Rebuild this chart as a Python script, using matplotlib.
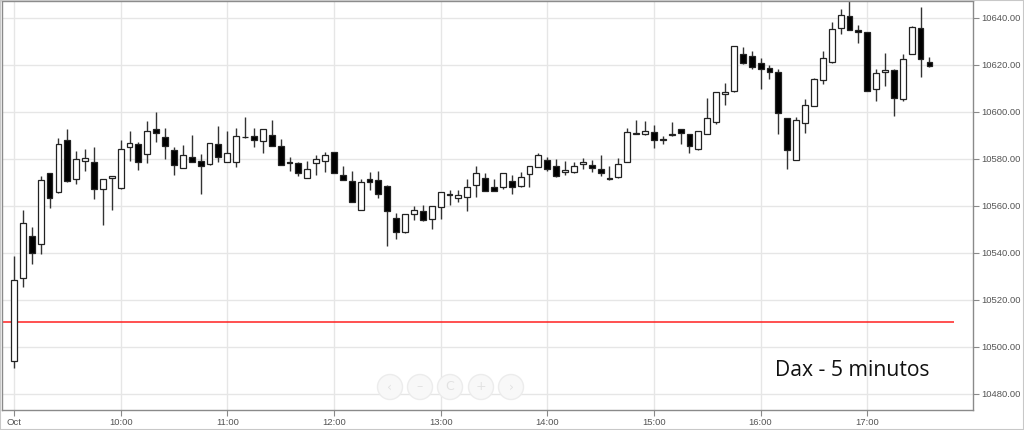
import matplotlib
matplotlib.use("Agg")
import matplotlib.pyplot as plt
import matplotlib.patches as mpatches
from matplotlib.transforms import IdentityTransform

# ---------------------------------------------------------------------------
# Data: DAX 5-minute candles, 09:00 .. 17:35
# ---------------------------------------------------------------------------

opens = [
    10494.0, 10529.4, 10547.2, 10543.7, 10573.9, 10565.7, 10587.8, 10571.5,
    10579.0, 10578.4, 10567.2, 10571.8, 10567.5, 10584.8, 10586.4, 10581.8,
    10592.8, 10589.4, 10583.5, 10575.9, 10580.6, 10579.0, 10577.6, 10586.1,
    10578.6, 10578.6, 10589.3, 10589.8, 10587.4, 10590.2, 10585.5, 10578.5,
    10578.3, 10571.8, 10578.3, 10579.0, 10582.7, 10573.0, 10570.5, 10558.2,
    10571.2, 10570.8, 10568.2, 10554.6, 10548.7, 10556.6, 10557.9, 10554.3,
    10559.3, 10565.0, 10563.1, 10563.8, 10568.8, 10571.8, 10568.1, 10567.8,
    10570.6, 10568.4, 10573.6, 10576.5, 10579.4, 10576.7, 10574.2, 10574.2,
    10577.6, 10577.3, 10575.6, 10571.8, 10572.1, 10578.6, 10590.7, 10590.4,
    10591.5, 10588.3, 10590.0, 10592.6, 10590.4, 10584.0, 10590.6, 10595.7,
    10607.5, 10608.9, 10624.7, 10623.5, 10620.9, 10618.7, 10616.9, 10597.4,
    10579.6, 10595.3, 10602.4, 10613.5, 10621.0, 10635.6, 10640.7, 10634.9,
    10634.0, 10609.8, 10616.7, 10617.9, 10605.2, 10624.5, 10635.6, 10621.1,
]
highs = [
    10538.7, 10558.0, 10550.8, 10572.8, 10574.0, 10588.8, 10592.5, 10583.4,
    10584.1, 10584.8, 10571.3, 10572.7, 10588.0, 10591.6, 10587.0, 10595.9,
    10599.7, 10592.9, 10585.2, 10585.7, 10590.0, 10581.8, 10586.8, 10594.0,
    10591.6, 10593.0, 10597.9, 10593.2, 10592.6, 10596.3, 10588.2, 10580.6,
    10578.4, 10579.1, 10581.4, 10582.7, 10582.8, 10576.9, 10574.8, 10571.5,
    10574.5, 10574.8, 10568.9, 10556.7, 10556.4, 10559.7, 10560.1, 10559.8,
    10565.9, 10566.7, 10566.7, 10571.2, 10577.0, 10573.8, 10571.5, 10574.0,
    10573.2, 10574.3, 10577.0, 10582.6, 10580.6, 10579.7, 10579.0, 10578.7,
    10580.1, 10579.4, 10581.4, 10576.7, 10580.1, 10593.2, 10596.6, 10595.9,
    10594.3, 10589.6, 10595.7, 10592.7, 10590.5, 10591.7, 10605.7, 10608.3,
    10612.2, 10627.9, 10627.4, 10625.8, 10622.7, 10619.9, 10618.0, 10597.5,
    10597.6, 10605.4, 10614.5, 10625.8, 10638.0, 10643.7, 10649.0, 10636.9,
    10634.1, 10618.3, 10624.8, 10618.0, 10624.4, 10636.5, 10644.5, 10623.1,
]
lows = [
    10490.8, 10525.4, 10535.3, 10539.4, 10558.9, 10565.5, 10570.0, 10569.1,
    10574.9, 10563.0, 10551.6, 10558.0, 10567.3, 10579.0, 10575.0, 10578.2,
    10587.2, 10580.0, 10573.2, 10575.9, 10578.5, 10565.2, 10577.2, 10578.6,
    10578.5, 10576.3, 10589.0, 10585.1, 10582.3, 10585.3, 10577.3, 10574.9,
    10572.6, 10571.7, 10573.2, 10574.3, 10573.9, 10570.8, 10561.5, 10558.1,
    10566.7, 10563.4, 10543.0, 10546.0, 10548.6, 10553.9, 10553.6, 10550.2,
    10554.3, 10560.3, 10561.6, 10557.7, 10563.8, 10566.1, 10566.1, 10567.2,
    10565.2, 10567.8, 10567.8, 10576.4, 10574.8, 10572.4, 10572.9, 10574.1,
    10575.5, 10574.2, 10572.5, 10570.9, 10572.0, 10578.5, 10590.6, 10590.3,
    10584.7, 10586.1, 10589.6, 10586.1, 10582.3, 10583.9, 10590.5, 10594.6,
    10602.8, 10608.5, 10620.5, 10618.0, 10609.6, 10613.8, 10590.4, 10575.5,
    10579.3, 10591.1, 10602.3, 10611.6, 10620.6, 10633.2, 10634.7, 10629.4,
    10608.6, 10604.5, 10610.9, 10598.3, 10604.5, 10624.4, 10614.6, 10619.2,
]
closes = [
    10528.2, 10552.5, 10539.9, 10570.8, 10563.4, 10586.4, 10570.4, 10579.7,
    10580.1, 10567.2, 10571.2, 10572.6, 10584.0, 10586.7, 10578.6, 10591.6,
    10590.8, 10585.5, 10577.2, 10581.7, 10578.6, 10576.7, 10586.7, 10580.6,
    10582.6, 10589.8, 10589.1, 10587.8, 10592.5, 10585.4, 10577.4, 10578.2,
    10573.8, 10575.6, 10579.9, 10581.4, 10574.0, 10570.9, 10561.6, 10570.1,
    10569.9, 10565.1, 10557.7, 10548.9, 10556.3, 10558.2, 10553.9, 10559.7,
    10565.8, 10564.6, 10564.7, 10568.1, 10573.8, 10566.2, 10566.2, 10573.9,
    10567.8, 10572.2, 10576.9, 10581.4, 10575.7, 10572.5, 10575.3, 10576.7,
    10578.6, 10576.0, 10573.9, 10571.5, 10577.6, 10591.2, 10590.9, 10591.6,
    10587.8, 10588.1, 10590.2, 10590.8, 10585.5, 10591.6, 10597.3, 10608.2,
    10608.4, 10627.8, 10620.6, 10619.1, 10618.0, 10616.9, 10599.6, 10583.5,
    10596.6, 10602.7, 10613.8, 10622.7, 10635.3, 10641.0, 10634.8, 10634.0,
    10608.7, 10616.3, 10617.6, 10606.0, 10622.4, 10636.2, 10622.3, 10619.3,
]

hour_labels = ["Oct", "10:00", "11:00", "12:00", "13:00",
               "14:00", "15:00", "16:00", "17:00"]
price_ticks = [10480, 10500, 10520, 10540, 10560, 10580, 10600, 10620, 10640]
ref_level = 10510.5          # red horizontal line
ref_end = 105.8              # where the red line stops (candle index)

# ---------------------------------------------------------------------------
# Figure
# ---------------------------------------------------------------------------

W, H = 1024, 430
fig = plt.figure(figsize=(W / 100, H / 100), dpi=100)
fig.patch.set_facecolor("white")
ax = fig.add_axes([2 / W, 20 / H, 971 / W, 409 / H])

GRID = "#e6e6e6"
FRAME = "#8a8a8a"
LABEL = "#555555"

x = list(range(len(opens)))
for k in range(len(hour_labels)):
    ax.axvline(k * 12, color=GRID, lw=1, zorder=0)
for p in price_ticks:
    ax.axhline(p, color=GRID, lw=1, zorder=0)

ax.hlines(ref_level, -2, ref_end, color="#ff2020", lw=1.1, zorder=1)

# wicks
ax.vlines(x, lows, highs, color="#333333", lw=1.0, zorder=2)

# bodies
bottoms = [min(o, c) for o, c in zip(opens, closes)]
heights = [max(abs(c - o), 0.35) for o, c in zip(opens, closes)]
fills = ["white" if c >= o else "black" for o, c in zip(opens, closes)]
ax.bar(x, heights, bottom=bottoms, width=0.66, color=fills,
       edgecolor="#222222", linewidth=0.9, zorder=3)

ax.set_xlim(-1.35, 107.9)
ax.set_ylim(10473.1, 10647.1)

ax.set_xticks([k * 12 for k in range(len(hour_labels))])
ax.set_xticklabels(hour_labels)
ax.set_yticks(price_ticks)
ax.set_yticklabels([f"{p:.2f}" for p in price_ticks])
ax.yaxis.tick_right()
ax.tick_params(axis="both", colors=FRAME, labelcolor=LABEL, length=4,
               width=0.8, labelsize=6.8, pad=2)
for lbl in ax.get_xticklabels() + ax.get_yticklabels():
    lbl.set_fontfamily("Liberation Sans")
for s in ax.spines.values():
    s.set_color(FRAME)
    s.set_linewidth(1.0)

# faint navigator buttons
ident = IdentityTransform()
for cx, sym in zip([390, 420, 450, 481, 511], ["‹", "–", "C", "+", "›"]):
    fig.add_artist(mpatches.Circle((cx, H - 387), 12.5, transform=ident,
                                   facecolor="#f8f8f8", edgecolor="#ececec",
                                   lw=1, zorder=5))
    fig.text(cx, H - 387, sym, transform=ident, ha="center", va="center",
             fontsize=9, color="#e2e2e2", zorder=6)

fig.text(775 / W, (H - 376) / H, "Dax - 5 minutos", fontsize=15.2,
         family="Open Sans", color="#111111", ha="left", va="baseline")

fig.add_artist(mpatches.Rectangle((0, 0), 1, 1, transform=fig.transFigure,
                                  fill=False, edgecolor="#c8c8c8", lw=1.5))

fig.savefig("out.png", dpi=100)
